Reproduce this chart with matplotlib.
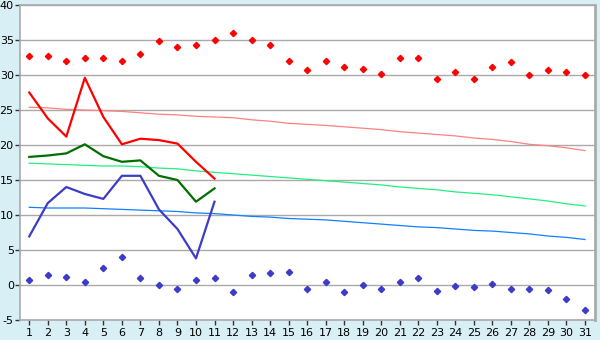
import matplotlib
matplotlib.use("Agg")
import matplotlib.pyplot as plt

plt.rcParams["axes.unicode_minus"] = False

days = list(range(1, 32))
day_labels = [str(d) for d in days]

record_max = [32.7, 32.7, 32.0, 32.4, 32.4, 32.0, 33.0, 34.8, 34.0, 34.3, 35.0, 36.0, 35.0, 34.3, 32.0,
              30.7, 32.0, 31.1, 30.8, 30.1, 32.4, 32.4, 29.4, 30.5, 29.5, 31.2, 31.8, 30.0, 30.7, 30.5, 30.0]
record_min = [0.7, 1.5, 1.2, 0.5, 2.4, 4.0, 1.0, 0.0, -0.5, 0.7, 1.0, -1.0, 1.5, 1.7, 1.8,
              -0.6, 0.4, -1.0, 0.0, -0.6, 0.4, 1.0, -0.9, -0.2, -0.3, 0.1, -0.6, -0.6, -0.75, -2.0, -3.6]

obs_days = list(range(1, 12))
obs_max = [27.5, 23.8, 21.2, 29.6, 24.0, 20.1, 20.9, 20.7, 20.2, 17.6, 15.2]
obs_mean = [18.3, 18.5, 18.8, 20.1, 18.4, 17.6, 17.8, 15.6, 15.0, 11.9, 13.8]
obs_min = [6.95, 11.7, 14.0, 13.0, 12.3, 15.6, 15.6, 10.8, 8.0, 3.8, 11.9]

normal_max = [25.4, 25.3, 25.1, 25.0, 24.9, 24.8, 24.6, 24.4, 24.3, 24.1, 24.0, 23.9, 23.6, 23.4, 23.1,
              22.95, 22.8, 22.6, 22.4, 22.2, 21.9, 21.7, 21.5, 21.3, 21.0, 20.8, 20.5, 20.1, 19.9, 19.6, 19.2]
normal_mean = [17.4, 17.3, 17.2, 17.1, 17.0, 17.0, 16.9, 16.7, 16.6, 16.3, 16.1, 15.9, 15.7, 15.5, 15.3,
               15.1, 14.9, 14.7, 14.5, 14.3, 14.0, 13.8, 13.6, 13.3, 13.1, 12.9, 12.6, 12.3, 12.0, 11.6, 11.3]
normal_min = [11.1, 11.0, 11.0, 11.0, 10.9, 10.8, 10.7, 10.6, 10.5, 10.3, 10.2, 10.0, 9.8, 9.7, 9.5,
              9.4, 9.3, 9.1, 8.9, 8.7, 8.5, 8.3, 8.2, 8.0, 7.8, 7.7, 7.5, 7.3, 7.0, 6.8, 6.5]

yticks = list(range(-5, 45, 5))

bg = "#d9eff6"
fig = plt.figure(figsize=(6, 3.4), dpi=100, facecolor=bg)
ax = fig.add_axes([20/600, 20/340, 575/600, 315/340])
ax.set_facecolor("white")

blue = "#3c3cc8"
ax.plot(days, normal_max, color="#ff8080", lw=0.9, zorder=2)
ax.plot(days, normal_mean, color="#20f080", lw=0.9, zorder=2)
ax.plot(days, normal_min, color="#1080ff", lw=0.9, zorder=2)

ax.plot(obs_days, obs_max, color="#ff0000", lw=1.6, zorder=3)
ax.plot(obs_days, obs_mean, color="#006e00", lw=1.6, zorder=3)
ax.plot(obs_days, obs_min, color=blue, lw=1.6, zorder=3)

ax.plot(days, record_max, linestyle="none", marker="D", ms=3.2, color="#ff0000", zorder=4)
ax.plot(days, record_min, linestyle="none", marker="D", ms=3.2, color=blue, zorder=4)

ax.set_xlim(0.5, 31.54)
ax.set_ylim(-5, 40)
ax.set_yticks(yticks)
ax.set_xticks(days)
ax.set_xticklabels(day_labels)
ax.yaxis.grid(True, color="#aaaaaa", lw=1.0)
ax.set_axisbelow(True)
for s in ["left", "bottom", "top", "right"]:
    ax.spines[s].set_color("#aaaaaa")
    ax.spines[s].set_linewidth(1.2)
ax.spines["right"].set_linewidth(2)
ax.tick_params(axis="both", colors="#333333", labelsize=8, length=3.5, width=1, labelcolor="black")
ax.tick_params(axis="y", pad=1)
ax.tick_params(axis="x", pad=2)

fig.savefig("out.png", dpi=100, facecolor=bg)
